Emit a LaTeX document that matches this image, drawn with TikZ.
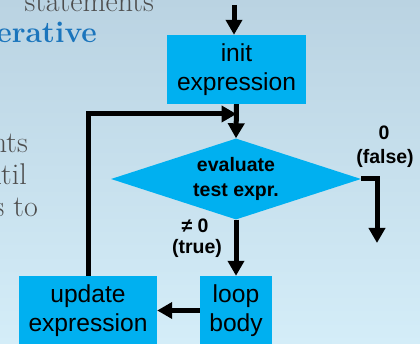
\documentclass[tikz,border=0pt]{standalone}
\usepackage{fontspec}
\newfontfamily\arial{Liberation Sans}
\usetikzlibrary{arrows.meta,shapes.geometric}
\definecolor{bgtop}{RGB}{186,211,226}
\definecolor{bgbot}{RGB}{212,237,248}
\definecolor{boxc}{RGB}{0,176,240}
\definecolor{slgray}{RGB}{77,77,77}
\definecolor{slblue}{RGB}{27,117,188}
\begin{document}
\begin{tikzpicture}[x=1pt,y=-1pt,
  box/.style={rectangle, fill=boxc, inner sep=0pt, align=center, font=\arial\fontsize{24.6}{29}\selectfont},
  dia/.style={diamond, fill=boxc, inner sep=0pt, shape aspect=3.09, minimum width=250pt, minimum height=81pt,
    font=\arial\bfseries\fontsize{19.5}{25}\selectfont, align=center},
  btxt/.style={font=\arial\bfseries\fontsize{19.5}{25}\selectfont, align=center, inner sep=0pt},
  conn/.style={line width=5pt, black},
  arr/.style={conn, -{Triangle[length=15pt,width=16pt]}},
  slide/.style={font=\fontsize{30}{31}\selectfont, inner sep=0pt, text=slgray}
]
\useasboundingbox (0,0) rectangle (420,344);
\clip (0,0) rectangle (420,344);
\shade[top color=bgtop, bottom color=bgbot] (0,0) rectangle (420,344);

% slide text behind
\node[slide, anchor=base east] (s1) at (154,12) {statements};
\node[slide, anchor=base east, text=slblue, font=\bfseries\fontsize{30}{31}\selectfont] (s2) at (97,43) {erative};
\node[slide, anchor=base east] (s3) at (28,153) {nts};
\node[slide, anchor=base east] (s4) at (27,185) {ntil};
\node[slide, anchor=base east] (s5) at (38,217) {s to};

% nodes
\coordinate (top) at (234,5);
\node[box, minimum width=139pt, minimum height=69pt] (init) at (236.5,69.5) {init\\expression};
\node[dia] (d) at (236,179) {evaluate\\test expr.};
\node[box, minimum width=72pt, minimum height=69pt] (body) at (236,310.5) {loop\\body};
\node[box, minimum width=138pt, minimum height=69pt] (upd) at (88,310.5) {update\\expression};
\coordinate (j) at (init.south |- 0,114);
\coordinate (exit) at (377,243);

% connectors
\draw[arr] (top) -- (top |- init.north);
\draw[arr] (init.south) -- (d.north);
\draw[arr] (upd.north) |- (j);
\draw[arr] (d.east) -| (exit);
\draw[arr] (d.south) -- (body.north);
\draw[arr] (body.west) -- (upd.east);

% labels
\node[btxt] (l0) at (384,133) {0};
\node[btxt] (lf) at (385,158) {(false)};
\node[btxt] (ln) at (195,226) {≠ 0};
\node[btxt] (lt) at (197,248) {(true)};
\end{tikzpicture}
\end{document}
